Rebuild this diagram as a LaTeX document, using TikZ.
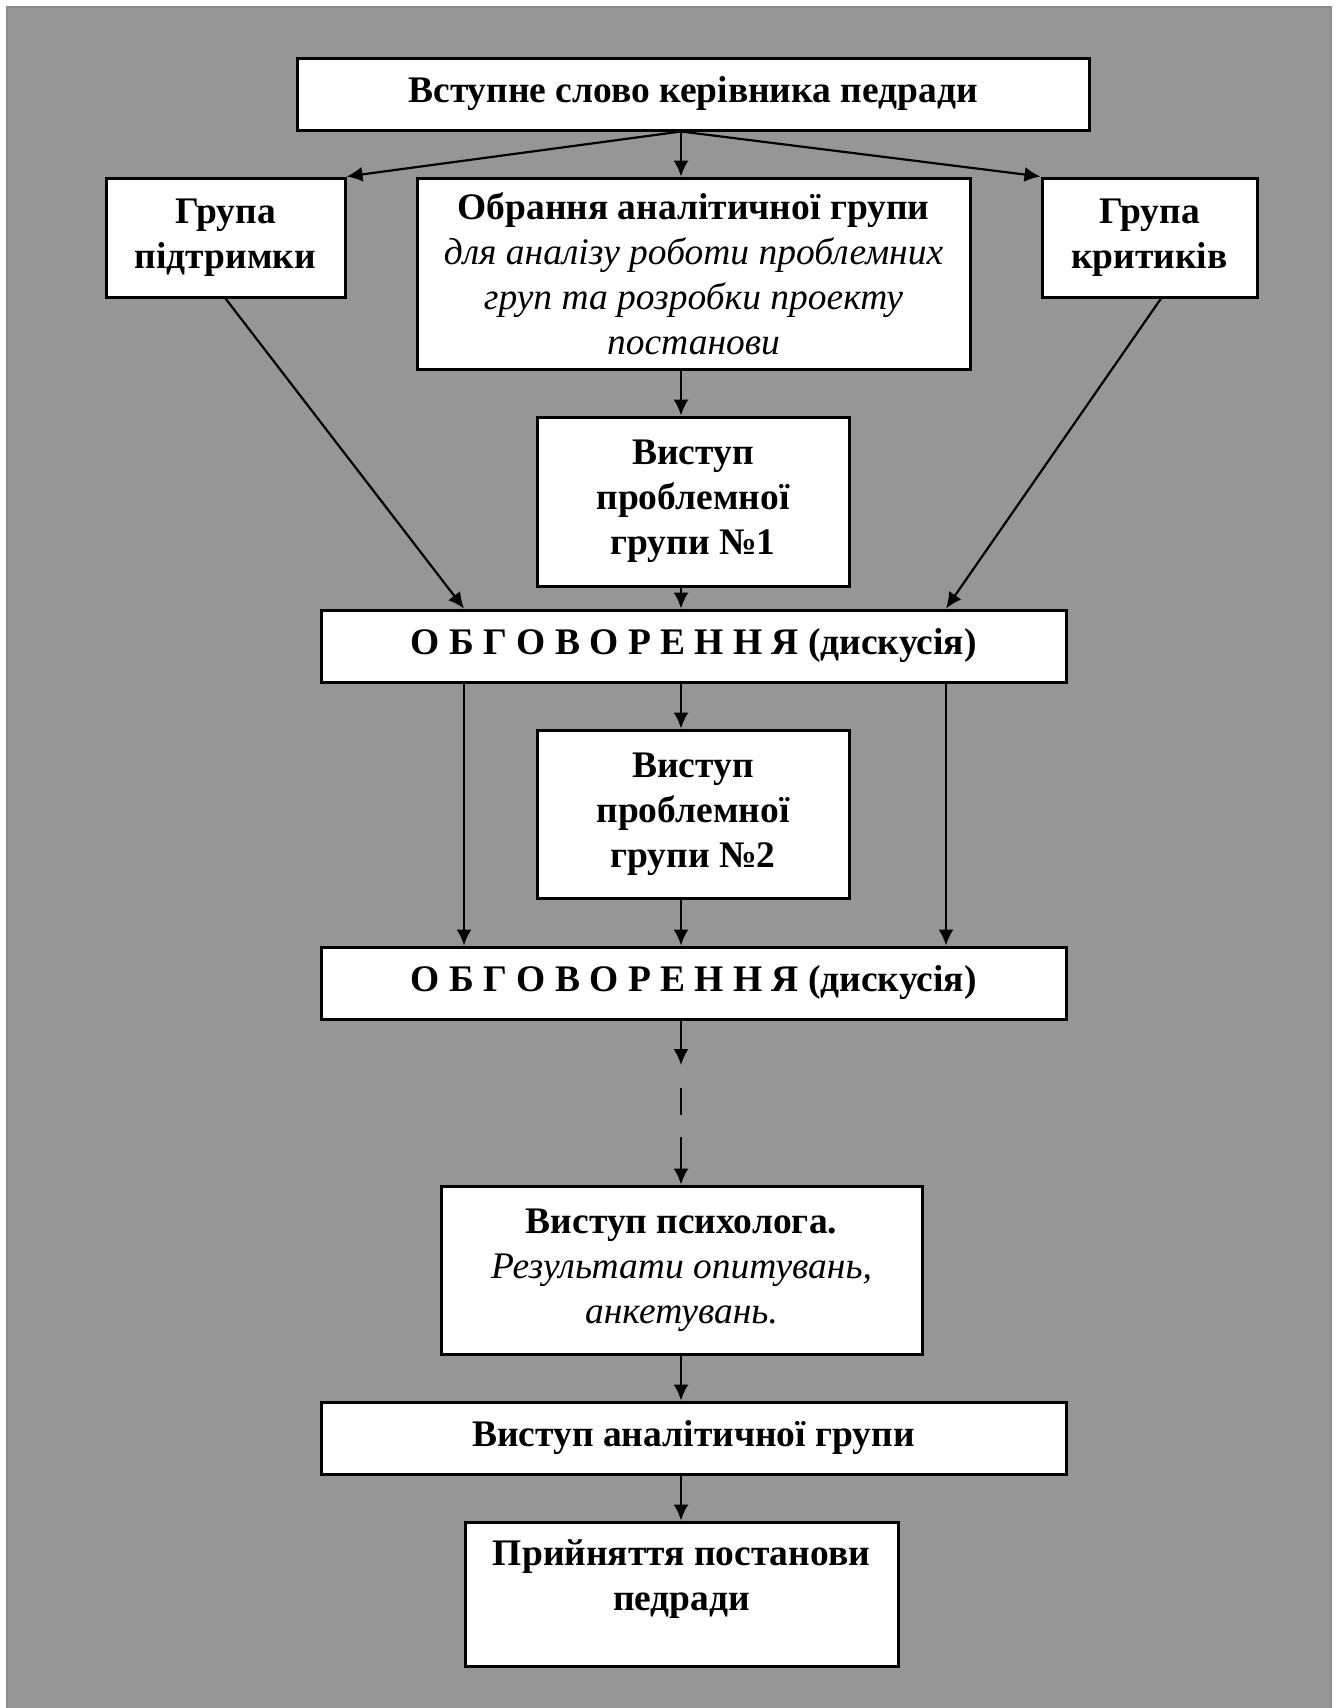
\documentclass[tikz,border=0pt]{standalone}
\usepackage{fontspec}
\setmainfont{Liberation Serif}
\usetikzlibrary{arrows.meta}

\definecolor{tlo}{HTML}{969696}
\newcommand{\kursyv}[1]{{\mdseries\itshape #1}}

\tikzset{
    blok/.style={draw, fill=white, line width=3pt, align=center, inner sep=0pt,
        font=\fontsize{37.5}{45}\selectfont\bfseries},
    strilka/.style={-{Latex[length=16pt,width=15pt]}, line width=2.2pt},
}

\begin{document}
\begin{tikzpicture}[x=1pt,y=-1pt]
    \useasboundingbox (0,0) rectangle (1339,1708);
    \fill[tlo] (7,7) rectangle (1331,1712);
    \draw[line width=1.5pt, black!45] (7,1712) -- (7,7) -- (1331,7) -- (1331,1712);

    \coordinate (os) at (681,0);
    \coordinate (liva) at (464,0);
    \coordinate (prava) at (946,0);
    \coordinate (krit) at (1161,0);

    \node[blok, minimum width=792pt, minimum height=72pt] (vstup) at (693,94) {Вступне слово керівника педради};
    \node[blok, minimum width=239pt, minimum height=119pt] (pidtrymka) at (225.5,237.5) {Група\\підтримки};
    \node[blok, minimum width=553pt, minimum height=191pt] (obrannia) at (693.5,273.5)
        {Обрання аналітичної групи\\\kursyv{для аналізу роботи проблемних}\\\kursyv{груп та розробки проекту}\\\kursyv{постанови}};
    \node[blok, minimum width=215pt, minimum height=119pt] (krytyky) at (1149.5,237.5) {Група\\критиків};
    \node[blok, minimum width=312pt, minimum height=169pt] (vystup1) at (693,501.5) {Виступ\\проблемної\\групи №1};
    \node[blok, minimum width=745pt, minimum height=72pt] (obg1) at (693.5,646) {О Б Г О В О Р Е Н Н Я (дискусія)};
    \node[blok, minimum width=312pt, minimum height=168pt] (vystup2) at (693,814) {Виступ\\проблемної\\групи №2};
    \node[blok, minimum width=745pt, minimum height=72pt] (obg2) at (693.5,983) {О Б Г О В О Р Е Н Н Я (дискусія)};
    \node[blok, minimum width=481pt, minimum height=168pt] (psyholog) at (681.5,1270)
        {Виступ психолога.\\\kursyv{Результати опитувань,}\\\kursyv{анкетувань.}};
    \node[blok, minimum width=745pt, minimum height=72pt] (analit) at (693.5,1438) {Виступ аналітичної групи};
    \node[blok, minimum width=433pt, minimum height=144pt] (postanova) at (681.5,1594) {Прийняття постанови\\педради\\[-8pt]\mbox{}};

    \draw[strilka] (vstup.south -| os) -- (pidtrymka.north east);
    \draw[strilka] (vstup.south -| os) -- (obrannia.north -| os);
    \draw[strilka] (vstup.south -| os) -- (krytyky.north west);
    \draw[strilka] (obrannia.south -| os) -- (vystup1.north -| os);

    \draw[strilka] (pidtrymka.south) -- (obg1.north -| liva);
    \draw[strilka] (vystup1.south -| os) -- (obg1.north -| os);
    \draw[strilka] (krytyky.south -| krit) -- (obg1.north -| prava);

    \draw[strilka] (obg1.south -| liva) -- (obg2.north -| liva);
    \draw[strilka] (obg1.south -| os) -- (vystup2.north -| os);
    \draw[strilka] (obg1.south -| prava) -- (obg2.north -| prava);
    \draw[strilka] (vystup2.south -| os) -- (obg2.north -| os);

    % перерва
    \coordinate (d1) at (681,1065);
    \coordinate (d2) at (681,1088);
    \coordinate (d3) at (681,1115);
    \coordinate (d4) at (681,1137);
    \draw[strilka] (obg2.south -| os) -- (d1);
    \draw[line width=2.2pt] (d2) -- (d3);
    \draw[strilka] (d4) -- (psyholog.north -| os);

    \draw[strilka] (psyholog.south -| os) -- (analit.north -| os);
    \draw[strilka] (analit.south -| os) -- (postanova.north -| os);
\end{tikzpicture}
\end{document}
